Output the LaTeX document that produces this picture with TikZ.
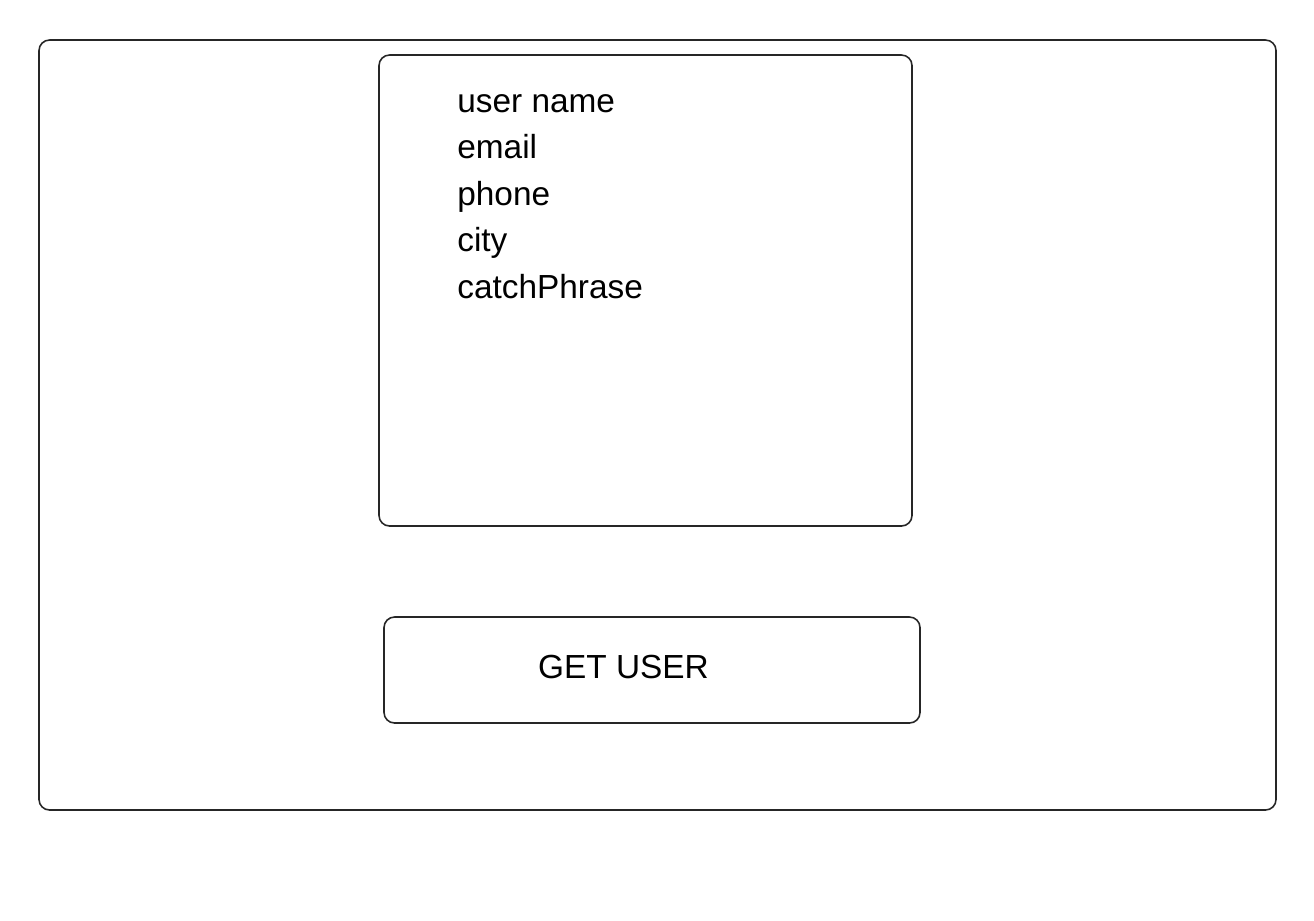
\documentclass[tikz,border=0pt]{standalone}
\usepackage{fontspec}
\setmainfont{Liberation Sans}
\begin{document}
\begin{tikzpicture}[x=0.02cm,y=-0.02cm,
  panel/.style={draw=black!85, line width=0.9pt, rounded corners=6pt},
  field/.style={anchor=base west, inner sep=0pt, font=\fontsize{19}{22}\selectfont},
  btntext/.style={inner sep=0pt, font=\fontsize{19}{22}\selectfont}]
\useasboundingbox (0,0) rectangle (1314,920);
\fill[white] (0,0) rectangle (1314,920);
\draw[panel] (39,40) rectangle (1276,810);
\draw[panel] (379,55) rectangle (912,526);
\draw[panel] (384,617) rectangle (920,723);
\node[field] (f1) at (457,112) {user name};
\node[field] (f2) at (457,158.5) {email};
\node[field] (f3) at (457,205) {phone};
\node[field] (f4) at (457,251.5) {city};
\node[field] (f5) at (457,298) {catchPhrase};
\node[btntext, anchor=base] (btn) at (623.5,678) {GET USER};
\end{tikzpicture}
\end{document}
